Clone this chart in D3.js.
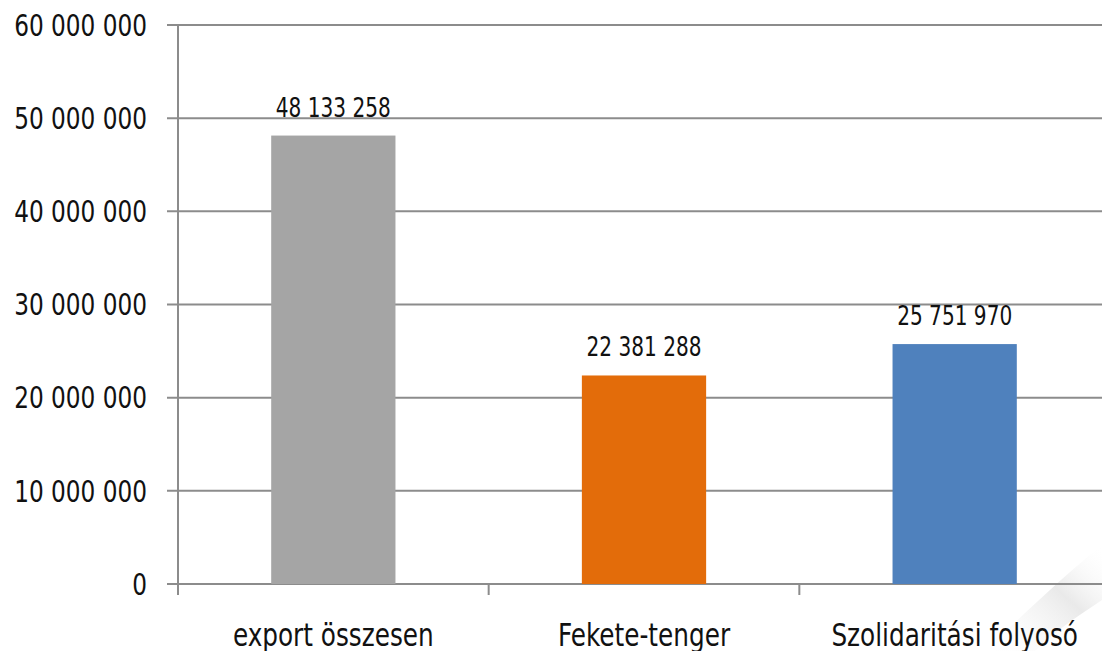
<!DOCTYPE html>
<html>
<head>
<meta charset="utf-8">
<script src="https://cdn.jsdelivr.net/npm/d3@7"></script>
<style>
  body { margin: 0; background: #fff; }
  svg { display: block; }
  text { font-family: "DejaVu Sans Condensed", "DejaVu Sans", sans-serif; font-stretch: condensed; fill: #111; }
</style>
</head>
<body>
<div class="chart-container"></div>
<script>
const categories = ['export összesen', 'Fekete-tenger', 'Szolidaritási folyosó'];
const values = [48133258, 22381288, 25751970];
const colors = ['#a5a5a5', '#e36c0a', '#4f81bd'];
const yTicks = [0, 10000000, 20000000, 30000000, 40000000, 50000000, 60000000];

const width = 1102, height = 651;
const margin = {top: 25, right: -8, bottom: 67, left: 178};
const squeeze = 0.86; // narrow the glyphs to look like the original condensed face

const fmt = v => d3.format(',')(v).replace(/,/g, ' ');

const svg = d3.select('.chart-container')
  .append('svg')
  .attr('width', width)
  .attr('height', height);

// faint background swoosh, bottom right
const defs = svg.append('defs');
const grad = defs.append('linearGradient').attr('id', 'sw').attr('x1', 0).attr('y1', 1).attr('x2', 1).attr('y2', 0);
grad.append('stop').attr('offset', 0).attr('stop-color', '#fff').attr('stop-opacity', 0);
grad.append('stop').attr('offset', 0.6).attr('stop-color', '#e4e4e4').attr('stop-opacity', 0.8);
grad.append('stop').attr('offset', 1).attr('stop-color', '#fff').attr('stop-opacity', 0);
svg.append('path')
  .attr('d', 'M985,651 C1030,608 1065,575 1102,545 L1102,600 C1075,618 1050,635 1035,651 Z')
  .attr('fill', 'url(#sw)');

const x = d3.scaleBand()
  .domain(categories)
  .range([margin.left, width - margin.right])
  .paddingInner(0.6)
  .paddingOuter(0.3);

const y = d3.scaleLinear()
  .domain([0, 60000000])
  .range([height - margin.bottom, margin.top]);

// gridlines with left tick marks
svg.append('g')
  .selectAll('line')
  .data(yTicks)
  .enter()
  .append('line')
  .attr('x1', margin.left - 11)
  .attr('x2', width)
  .attr('y1', d => y(d))
  .attr('y2', d => y(d))
  .attr('stroke', '#8c8c8c')
  .attr('stroke-width', 2);

// y axis line
svg.append('line')
  .attr('x1', margin.left).attr('x2', margin.left)
  .attr('y1', y(60000000)).attr('y2', y(0) + 11)
  .attr('stroke', '#8c8c8c')
  .attr('stroke-width', 2);

// category separators
const step = x.step();
svg.append('g')
  .selectAll('line')
  .data(categories.slice(1))
  .enter()
  .append('line')
  .attr('x1', d => x(d) + x.bandwidth() / 2 - step / 2)
  .attr('x2', d => x(d) + x.bandwidth() / 2 - step / 2)
  .attr('y1', y(0))
  .attr('y2', y(0) + 11)
  .attr('stroke', '#8c8c8c')
  .attr('stroke-width', 2);

// y tick labels
svg.append('g')
  .selectAll('text')
  .data(yTicks)
  .enter()
  .append('text')
  .attr('transform', d => `translate(147,${y(d)}) scale(${squeeze},1)`)
  .attr('dy', '0.36em')
  .attr('text-anchor', 'end')
  .style('font-size', '30px')
  .text(d => fmt(d));

// bars
svg.append('g')
  .selectAll('rect')
  .data(values)
  .enter()
  .append('rect')
  .attr('x', (d, i) => x(categories[i]))
  .attr('y', d => y(d))
  .attr('width', x.bandwidth())
  .attr('height', d => y(0) - y(d))
  .attr('fill', (d, i) => colors[i]);

// value labels
svg.append('g')
  .selectAll('text')
  .data(values)
  .enter()
  .append('text')
  .attr('transform', (d, i) => `translate(${x(categories[i]) + x.bandwidth() / 2},${y(d) - 19}) scale(${squeeze},1)`)
  .attr('text-anchor', 'middle')
  .style('font-size', '26px')
  .text(d => fmt(d));

// category labels
svg.append('g')
  .selectAll('text')
  .data(categories)
  .enter()
  .append('text')
  .attr('transform', d => `translate(${x(d) + x.bandwidth() / 2},646) scale(${squeeze},1)`)
  .attr('text-anchor', 'middle')
  .style('font-size', '32px')
  .text(d => d);
</script>
</body>
</html>
